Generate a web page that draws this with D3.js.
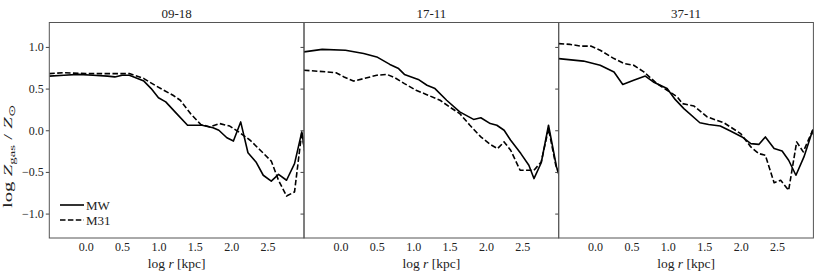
<!DOCTYPE html>
<html>
<head>
<meta charset="utf-8">
<script src="https://cdn.jsdelivr.net/npm/d3@7"></script>
<style>
  body { margin: 0; background: #fff; }
</style>
</head>
<body>
<script>
// panel titles and tick values
var panels = ["09-18", "17-11", "37-11"];
var xTicks = [0.0, 0.5, 1.0, 1.5, 2.0, 2.5];
var yTicks = [-1.0, -0.5, 0.0, 0.5, 1.0];
var seriesNames = ["MW", "M31"];

// log r values and log Z values for each panel
var r0918MW = [-0.5, -0.3, -0.1, 0.1, 0.3, 0.4, 0.5, 0.6, 0.8, 0.9, 1.0, 1.1, 1.25, 1.4, 1.6, 1.75, 1.83, 1.94, 2.03, 2.13, 2.23, 2.34, 2.44, 2.55, 2.65, 2.76, 2.87, 2.97, 3.07];
var z0918MW = [0.65, 0.66, 0.67, 0.66, 0.65, 0.64, 0.66, 0.66, 0.59, 0.5, 0.39, 0.34, 0.2, 0.06, 0.06, 0.03, 0.0, -0.09, -0.13, 0.1, -0.27, -0.38, -0.54, -0.61, -0.53, -0.6, -0.4, -0.02, -0.6];
var r0918M31 = [-0.5, -0.3, 0.0, 0.3, 0.6, 0.8, 0.97, 1.2, 1.3, 1.44, 1.58, 1.71, 1.84, 1.98, 2.12, 2.26, 2.4, 2.55, 2.65, 2.76, 2.87, 2.97, 3.07];
var z0918M31 = [0.68, 0.69, 0.68, 0.68, 0.68, 0.62, 0.53, 0.42, 0.36, 0.2, 0.07, 0.04, 0.08, 0.05, -0.03, -0.12, -0.24, -0.37, -0.6, -0.79, -0.74, -0.02, -0.6];

var r1711MW = [-0.5, -0.25, 0.07, 0.32, 0.5, 0.68, 0.8, 0.88, 1.07, 1.19, 1.3, 1.46, 1.64, 1.83, 1.93, 2.06, 2.15, 2.25, 2.34, 2.48, 2.59, 2.66, 2.76, 2.86, 2.97, 3.07];
var z1711MW = [0.94, 0.97, 0.96, 0.92, 0.88, 0.79, 0.74, 0.67, 0.61, 0.54, 0.5, 0.36, 0.22, 0.13, 0.15, 0.08, 0.06, 0.0, -0.12, -0.28, -0.42, -0.58, -0.39, 0.06, -0.44, -0.7];
var r1711M31 = [-0.5, -0.18, -0.06, 0.05, 0.18, 0.32, 0.5, 0.64, 0.75, 0.88, 1.04, 1.18, 1.37, 1.5, 1.64, 1.78, 1.93, 2.06, 2.16, 2.25, 2.34, 2.47, 2.66, 2.76, 2.86, 2.96, 3.07];
var z1711M31 = [0.72, 0.70, 0.69, 0.64, 0.59, 0.62, 0.66, 0.67, 0.63, 0.56, 0.48, 0.43, 0.36, 0.28, 0.2, 0.06, -0.08, -0.17, -0.22, -0.14, -0.24, -0.48, -0.48, -0.38, 0.02, -0.42, -0.7];

var r3711MW = [-0.5, -0.16, 0.07, 0.26, 0.38, 0.53, 0.69, 0.8, 0.99, 1.1, 1.22, 1.44, 1.56, 1.72, 1.86, 2.02, 2.14, 2.25, 2.34, 2.46, 2.57, 2.66, 2.76, 2.87, 2.99, 3.09];
var z3711MW = [0.86, 0.83, 0.78, 0.70, 0.55, 0.6, 0.65, 0.58, 0.5, 0.37, 0.26, 0.09, 0.07, 0.05, -0.01, -0.08, -0.16, -0.17, -0.08, -0.22, -0.25, -0.36, -0.54, -0.32, 0.0, -0.4];
var r3711M31 = [-0.5, -0.34, -0.2, -0.06, 0.07, 0.26, 0.4, 0.53, 0.67, 0.85, 0.99, 1.13, 1.2, 1.36, 1.54, 1.77, 2.0, 2.14, 2.25, 2.34, 2.46, 2.55, 2.66, 2.77, 2.86, 2.99, 3.09];
var z3711M31 = [1.04, 1.03, 1.01, 1.01, 0.96, 0.86, 0.8, 0.78, 0.7, 0.56, 0.48, 0.4, 0.32, 0.29, 0.16, 0.09, -0.04, -0.2, -0.28, -0.3, -0.63, -0.6, -0.72, -0.14, -0.26, 0.0, -0.4];

var w = 830;
var h = 277;
var marginLeft = 49.3;
var marginTop = 22.5;
var pw = 254.7;
var ph = 215.5;
var font = "Liberation Serif";
var ink = "#222";

var svg = d3.select("body")
            .append("svg")
            .attr("width", w)
            .attr("height", h)
            .attr("font-family", font);

var xScale = d3.scaleLinear().domain([-0.5, 3.0]).range([0, pw]);
var yScale = d3.scaleLinear().domain([-1.293, 1.293]).range([ph, 0]);

// zip x and y arrays into points
function pts(xs, ys) {
  return xs.map(function(x, i) { return [x, ys[i]]; });
}

var data = [
  [pts(r0918MW, z0918MW), pts(r0918M31, z0918M31)],
  [pts(r1711MW, z1711MW), pts(r1711M31, z1711M31)],
  [pts(r3711MW, z3711MW), pts(r3711M31, z3711M31)]
];

var line = d3.line()
  .x(function(d) { return xScale(d[0]); })
  .y(function(d) { return yScale(d[1]); });

var fmt = d3.format(".1f");

panels.forEach(function(name, i) {
  var g = svg.append("g")
    .attr("transform", "translate(" + (marginLeft + i * pw) + "," + marginTop + ")");

  g.append("clipPath")
    .attr("id", "clip" + i)
    .append("rect")
    .attr("width", pw)
    .attr("height", ph);

  // lines
  var lines = g.append("g").attr("clip-path", "url(#clip" + i + ")");
  data[i].forEach(function(s, j) {
    lines.append("path")
      .attr("d", line(s))
      .attr("fill", "none")
      .attr("stroke", "#000")
      .attr("stroke-width", 1.6)
      .attr("stroke-linejoin", "round")
      .attr("stroke-dasharray", j == 1 ? "5.5,2.4" : null);
  });

  // x axis, labels only
  var xa = g.append("g")
    .attr("transform", "translate(0," + ph + ")")
    .call(d3.axisBottom(xScale).tickValues(xTicks).tickFormat(fmt).tickSize(0).tickPadding(4));
  xa.attr("font-family", font).attr("font-size", 12);
  xa.select(".domain").remove();
  xa.selectAll("text").attr("fill", ink);

  // y axis, outward ticks, labels on first panel
  var ya = g.append("g")
    .call(d3.axisLeft(yScale).tickValues(yTicks).tickFormat(i == 0 ? fmt : "").tickSize(3.5).tickPadding(2));
  ya.attr("font-family", font).attr("font-size", 12);
  ya.select(".domain").remove();
  ya.selectAll("line").attr("stroke", "#444");
  ya.selectAll("text").attr("fill", ink);

  // frame
  g.append("rect")
    .attr("width", pw)
    .attr("height", ph)
    .attr("fill", "none")
    .attr("stroke", "#555")
    .attr("stroke-width", 1);

  // title
  g.append("text")
    .attr("x", pw / 2)
    .attr("y", -5)
    .attr("text-anchor", "middle")
    .attr("font-size", 13)
    .attr("fill", ink)
    .text(name);

  // x label
  var xl = g.append("text")
    .attr("x", pw / 2)
    .attr("y", ph + 30)
    .attr("text-anchor", "middle")
    .attr("font-size", 13.5)
    .attr("fill", ink);
  xl.append("tspan").text("log ");
  xl.append("tspan").attr("font-style", "italic").text("r");
  xl.append("tspan").text(" [kpc]");
});

// y label, stretched along its length like the original
var yl = svg.append("text")
  .attr("transform", "translate(12,156) rotate(-90)")
  .attr("text-anchor", "middle")
  .attr("font-size", 12.5)
  .attr("textLength", 104)
  .attr("lengthAdjust", "spacingAndGlyphs")
  .attr("fill", ink);
yl.append("tspan").text("log ");
yl.append("tspan").attr("font-style", "italic").text("Z");
yl.append("tspan").attr("dy", 3).attr("font-size", 9).text("gas");
yl.append("tspan").attr("dy", -3).text(" / ");
yl.append("tspan").attr("font-style", "italic").text("Z");
yl.append("tspan").attr("dy", 3).attr("font-size", 9).text("\u2299");

// legend
var legend = svg.selectAll(".legenda")
  .data(seriesNames)
  .enter().append("g")
  .attr("class", "legenda")
  .attr("transform", function(d, i) {
    return "translate(60," + (205 + i * 15) + ")";
  });

legend.append("line")
  .attr("x1", 0)
  .attr("x2", 24)
  .attr("stroke", "#000")
  .attr("stroke-width", 1.6)
  .attr("stroke-dasharray", function(d, i) { return i == 1 ? "5.5,2.4" : null; });

legend.append("text")
  .attr("x", 26)
  .attr("y", 4.5)
  .attr("font-size", 13)
  .attr("fill", ink)
  .text(function(d) { return d; });
</script>
</body>
</html>
